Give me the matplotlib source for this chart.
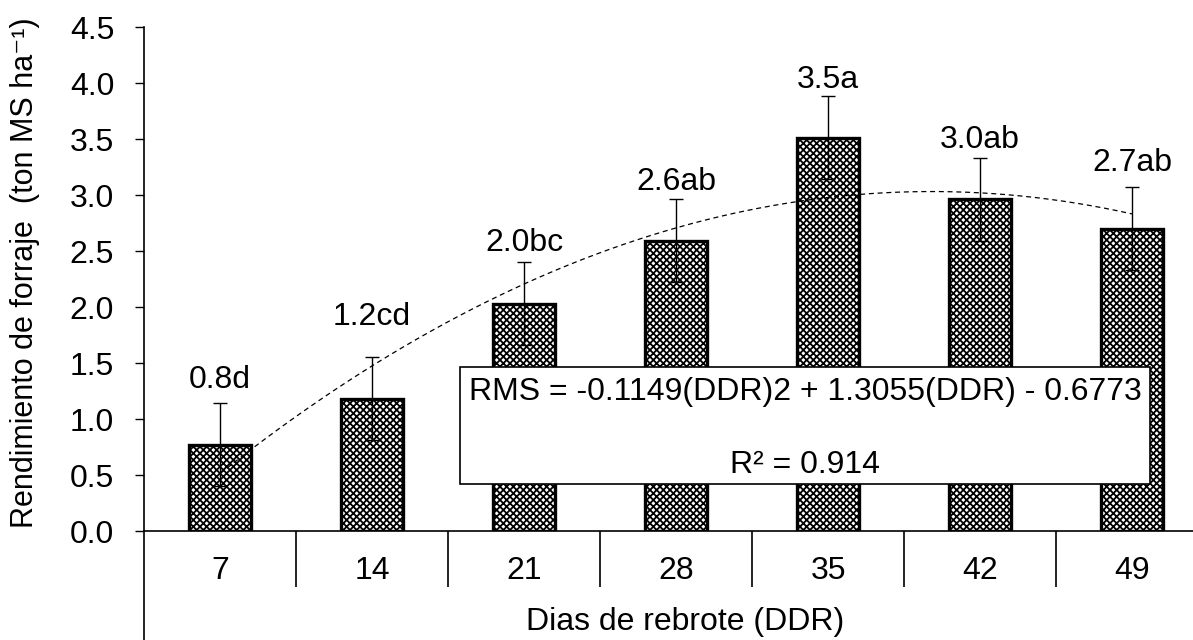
import numpy as np
import matplotlib
matplotlib.use("Agg")
import matplotlib.pyplot as plt
from matplotlib.patches import Rectangle

plt.rcParams['font.family'] = ['Liberation Sans', 'DejaVu Sans']
plt.rcParams['hatch.linewidth'] = 1.3
plt.rcParams['axes.unicode_minus'] = False

# datos
dias = ['7', '14', '21', '28', '35', '42', '49']
rendimiento = [0.77, 1.18, 2.03, 2.59, 3.51, 2.96, 2.70]
error = [0.37, 0.37, 0.37, 0.37, 0.37, 0.37, 0.37]
etiquetas = ['0.8d', '1.2cd', '2.0bc', '2.6ab', '3.5a', '3.0ab', '2.7ab']
coef = [-0.1149, 1.3055, -0.6773]
r2 = 0.914

FS = 23
fig = plt.figure(figsize=(11.93, 6.4), dpi=100)
ax = fig.add_axes([0.1207, 0.1703, 0.892, 0.7875])

x = np.arange(1, len(dias) + 1)
ax.bar(x, rendimiento, width=0.41, color='white', edgecolor='black',
       linewidth=2.4, hatch='xxxxx', zorder=2)
ax.errorbar(x, rendimiento, yerr=error, fmt='none', ecolor='black',
            elinewidth=1.0, capsize=5, capthick=1.0, zorder=3)

# linea de tendencia
xs = np.linspace(1, 7, 200)
ax.plot(xs, np.polyval(coef, xs), color='black', lw=0.9,
        linestyle=(0, (4, 3)), zorder=4)

# etiquetas sobre barras
offs = [0.21, 0.36, 0.17, 0.16, 0.15, 0.16, 0.22]
for xi, v, e, t, o in zip(x, rendimiento, error, etiquetas, offs):
    ax.text(xi, v + e + o, t, ha='center', va='center', fontsize=FS)

# cuadro de ecuacion
bx, by, bw, bh = 2.579, 0.42, 4.54, 1.045
ax.add_patch(Rectangle((bx, by), bw, bh, facecolor='white',
                       edgecolor='black', linewidth=1.2, zorder=5))
ax.text(bx + bw / 2, 1.24, 'RMS = %.4f(DDR)2 + %.4f(DDR) - %.4f' % (coef[0], coef[1], -coef[2]),
        ha='center', va='center', fontsize=FS, zorder=6)
ax.text(bx + bw / 2, 0.59, 'R² = %.3f' % r2, ha='center', va='center', fontsize=FS, zorder=6)

ax.set_xlim(0.5, 7.5)
ax.set_ylim(0, 4.5)
ax.set_yticks(np.arange(0, 4.51, 0.5))
ax.set_yticklabels(['%.1f' % v for v in np.arange(0, 4.51, 0.5)])
ax.tick_params(axis='y', direction='out', length=6.5, width=1, labelsize=FS, pad=15)

ax.set_xticks(x)
ax.set_xticklabels(dias)
ax.tick_params(axis='x', which='major', length=0, labelsize=FS, pad=18)
ax.set_xticks(np.arange(1.5, 7.5, 1), minor=True)
ax.tick_params(axis='x', which='minor', direction='out', length=40, width=1.2)

for s in ['top', 'right']:
    ax.spines[s].set_visible(False)
ax.spines['left'].set_linewidth(1.2)
ax.spines['bottom'].set_linewidth(1.2)
ax.plot([0, 0], [0, -0.22], transform=ax.transAxes, color='black', lw=1.2, clip_on=False)

ax.set_ylabel('Rendimiento de forraje  (ton MS ha⁻¹)', fontsize=22)
ax.yaxis.set_label_coords(-0.098, 0.512)
fig.text(0.574, 0.028, 'Dias de rebrote (DDR)', ha='center', va='center', fontsize=FS)

fig.savefig('out.png', dpi=100)
